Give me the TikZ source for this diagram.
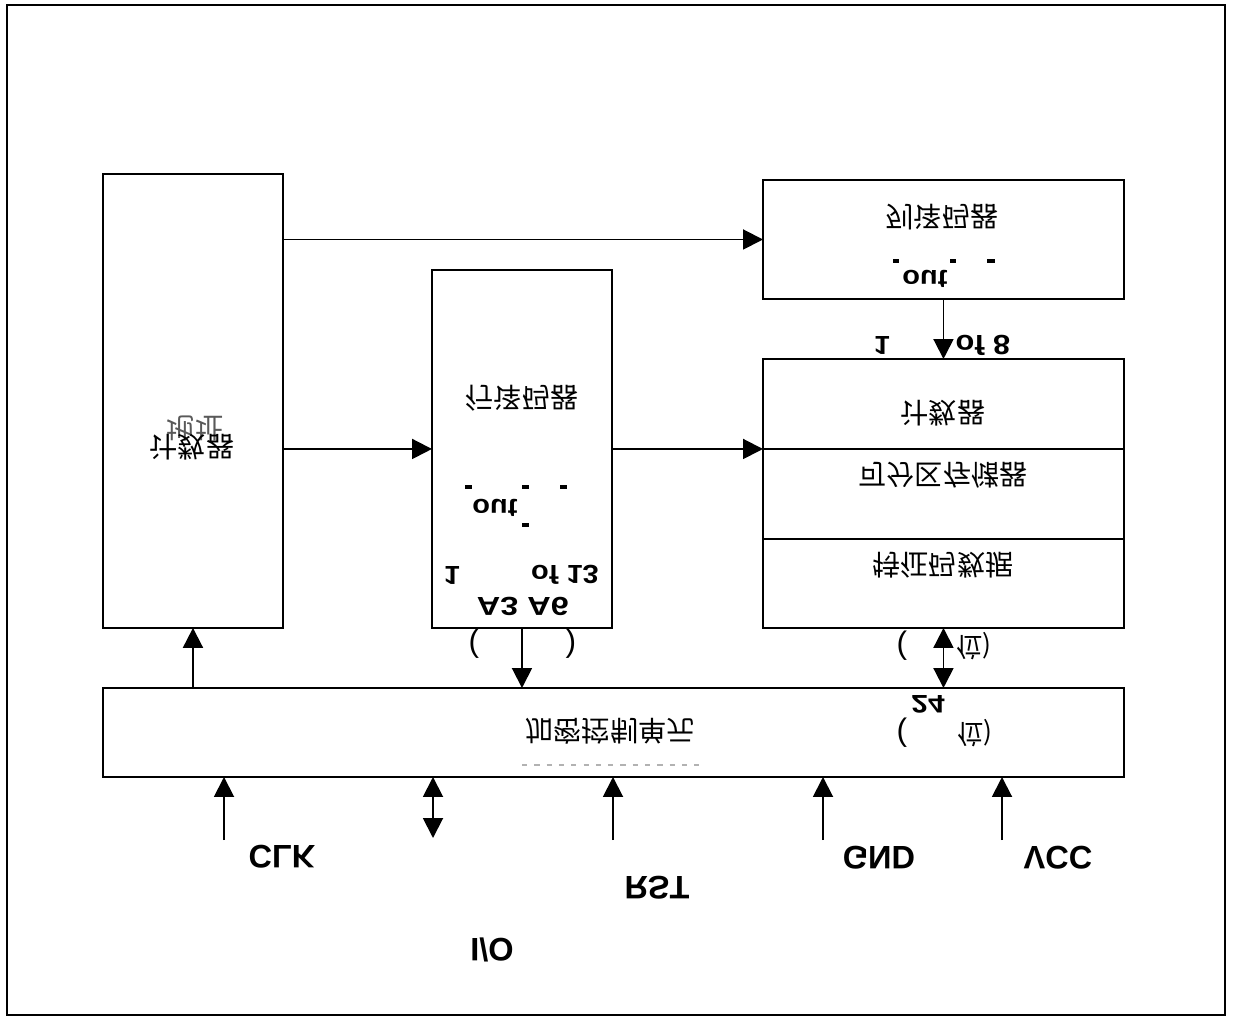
\documentclass[tikz,border=0pt]{standalone}
\usepackage{fontspec}
\setmainfont{Liberation Sans}
\newfontfamily\cjk{Noto Sans CJK SC}
\usetikzlibrary{arrows.meta, positioning}

% every text of the figure is printed upside down (and some squashed)
\newcommand{\updown}[2][1]{\scalebox{1}[-#1]{#2}}

\begin{document}
\begin{tikzpicture}[
    x=0.02cm, y=-0.02cm,
    box/.style={draw, line width=1pt, anchor=north west, inner sep=0pt, outer sep=0pt,
                minimum width=#1},
    arrow/.style={-{Triangle[length=0.4cm, width=0.4cm]}, line width=1.1pt},
    dblarrow/.style={{Triangle[length=0.4cm, width=0.4cm]}-{Triangle[length=0.4cm, width=0.4cm]}, line width=1.1pt},
    zh/.style={font=\cjk\fontsize{16}{18}\selectfont, inner sep=0pt},
    sig/.style={font=\bfseries\fontsize{16.5}{19}\selectfont, inner sep=0pt},
    paren/.style={font=\fontsize{18}{20}\selectfont, inner sep=0pt},
    bit/.style={font=\cjk\fontsize{15}{17}\selectfont, inner sep=0pt},
    pinlabel/.style={font=\bfseries\fontsize{18.5}{20}\selectfont, inner sep=0pt},
    dashmark/.style={line width=2.2pt},
]
\useasboundingbox (0,0) rectangle (1233,1017);
\draw[line width=0.8pt] (7,5) rectangle (1225,1015);

% ── Blocks ──
\node[box=3.6cm, minimum height=9.08cm] (addr) at (103,174) {};
\node[box=3.6cm, minimum height=7.16cm] (rowdec) at (432,270) {};
\node[box=7.22cm, minimum height=2.38cm] (coldec) at (763,180) {};
\node[box=7.22cm, minimum height=1.8cm] (cnt) at (763,359) {};
\node[box=7.22cm, minimum height=1.8cm, below=0pt of cnt] (mem) {};
\node[box=7.22cm, minimum height=1.78cm, below=0pt of mem] (data) {};
\node[box=20.42cm, minimum height=1.78cm] (ctrl) at (103,688) {};

% ── Texts in blocks ──
\node[zh, black!65] (addrtop) at (195,429) {\updown{地址}};
\node[zh] (addrtxt) at (192,447) {\updown{计数器}};

\node[zh] (rowtxt) at (522,398) {\updown{行译码器}};
\node[sig] (rowout) at (495,508) {\updown[0.9]{out}};
\node[sig] (rowone) at (452,575) {\updown[0.9]{1}};
\node[sig] (rowof) at (565,575) {\updown[0.9]{of 13}};
\node[pinlabel] (rowaddr) at (523,606) {\updown[0.8]{A3 A6}};
\node[paren] (rowlp) at (474,644) {\updown{(}};
\node[paren] (rowrp) at (571,644) {\updown{)}};

\node[zh] (coltxt) at (942,217) {\updown{列译码器}};
\node[sig] (colout) at (925,279) {\updown[0.9]{out}};
\node[sig] (colone) at (882,345) {\updown[0.9]{1}};
\node[sig, font=\bfseries\fontsize{17.5}{19}\selectfont] (colof) at (983,345) {\updown[0.9]{of 8}};

\node[zh] (cnttxt) at (943,413) {\updown{计数器}};
\node[zh] (memtxt) at (943,475) {\updown{可分区存储器}};
\node[zh] (datatxt) at (943,565) {\updown{特征码数据}};

\node[zh] (ctrltxt) at (610,731) {\updown{加密控制单元}};
\draw[black!30, line width=1.5pt, dash pattern=on 3pt off 4pt] (522,765) -- (700,765);

% ── out bars ──
\draw[dashmark] (465,487) -- (472,487);
\draw[dashmark] (522,487) -- (529,487);
\draw[dashmark] (560,487) -- (567,487);
\draw[dashmark] (522,525) -- (529,525);
\draw[dashmark] (893,261) -- (899,261);
\draw[dashmark] (950,261) -- (956,261);
\draw[dashmark] (987,261) -- (995,261);

% ── Bus width ──
\node[paren] (buslp) at (902,646) {\updown{(}};
\node[bit] (busbit) at (974,646) {\updown{位)}};
\node[sig, font=\bfseries\fontsize{17}{19}\selectfont] (buswidth) at (928,704) {\updown[0.85]{24}};
\node[paren] (buslp2) at (902,733) {\updown{(}};
\node[bit] (busbit2) at (975,733) {\updown{位)}};

% ── Arrows ──
\draw[arrow] (addr.east |- coldec.west) -- (coldec.west);
\draw[arrow] (addr.east |- rowdec.west) -- (rowdec.west);
\draw[arrow] (rowdec.east) -- (cnt.south west);
\draw[arrow] (coldec.south) -- (cnt.north);
\draw[arrow] (ctrl.north -| addr.south) -- (addr.south);
\draw[arrow] (rowdec.south) -- (rowdec.south |- ctrl.north);
\draw[dblarrow] (data.south) -- (data.south |- ctrl.north);

% ── Pins ──
\coordinate (clk) at (224,840);
\coordinate (io) at (433,838);
\coordinate (rst) at (613,840);
\coordinate (gnd) at (823,840);
\coordinate (vcc) at (1002,840);
\draw[arrow] (clk) -- (clk |- ctrl.south);
\draw[dblarrow] (io |- ctrl.south) -- (io);
\draw[arrow] (rst) -- (rst |- ctrl.south);
\draw[arrow] (gnd) -- (gnd |- ctrl.south);
\draw[arrow] (vcc) -- (vcc |- ctrl.south);

\node[pinlabel] (clktxt) at (282,857) {\updown{CLK}};
\node[pinlabel] (iotxt) at (492,950) {\updown{I/O}};
\node[pinlabel] (rsttxt) at (657,888) {\updown{RST}};
\node[pinlabel] (gndtxt) at (879,858) {\updown{GND}};
\node[pinlabel] (vcctxt) at (1058,858) {\updown{VCC}};

\end{tikzpicture}
\end{document}
